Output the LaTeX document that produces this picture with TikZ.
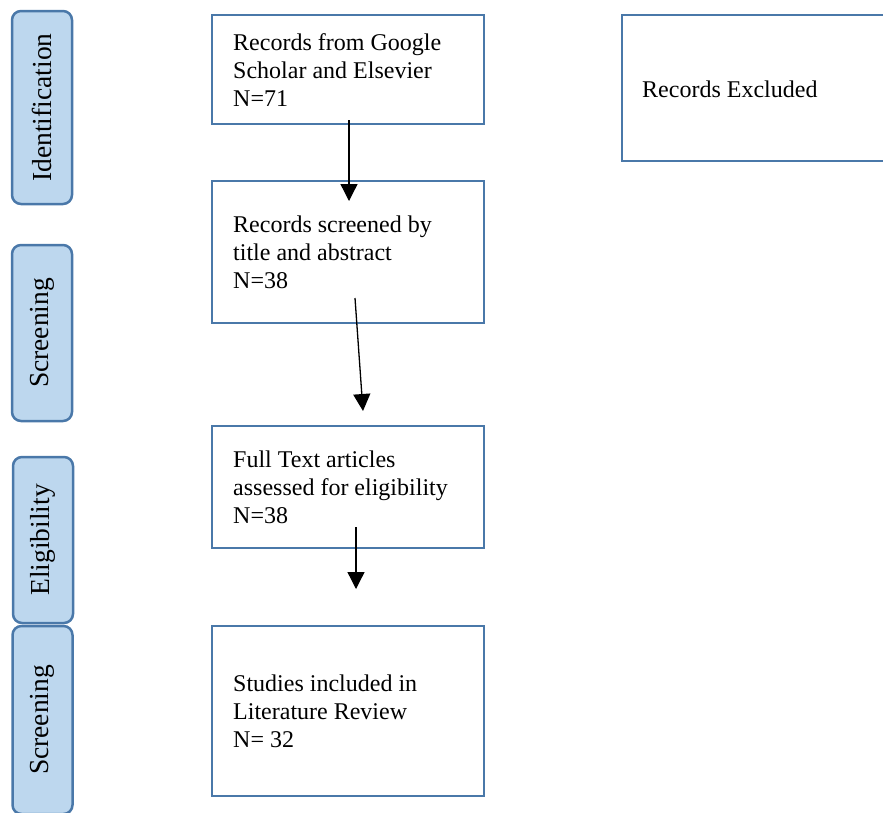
\documentclass[tikz,border=0pt]{standalone}
\usepackage{fontspec}
\setmainfont{Liberation Serif}
\usetikzlibrary{arrows.meta}
\definecolor{edge}{HTML}{4A78A9}
\definecolor{stage}{HTML}{BDD7EE}

\tikzset{
  flowbox/.style={draw=edge,line width=2.8pt,rectangle,inner sep=0pt},
  stagebox/.style={draw=edge,fill=stage,line width=2.5pt,rectangle,rounded corners=9pt,
    rotate=90,minimum height=60pt,inner sep=0pt,font=\fontsize{27.5}{30}\selectfont},
  boxtext/.style={anchor=base west,align=left,inner sep=0pt,font=\fontsize{24}{27.8}\selectfont},
  flow/.style={line width=1.3pt,-{Triangle[length=17pt,width=17pt]}}
}

\begin{document}
\begin{tikzpicture}[x=1pt,y=-1pt]
  \useasboundingbox (0,0) rectangle (883,812);

  % stages on the left
  \node[stagebox,minimum width=193pt] (ident) at (42,107.5) {Identification};
  \node[stagebox,minimum width=176pt] (screen) at (42,333) {Screening};
  \node[stagebox,minimum width=166pt] (elig) at (43,540) {Eligibility};
  \node[stagebox,minimum width=188pt] (incl) at (42.5,720) {Screening};

  % flow boxes
  \node[flowbox,minimum width=272pt,minimum height=109pt] (recs) at (348,69.5) {};
  \node[flowbox,minimum width=272pt,minimum height=142pt] (screened) at (348,252) {};
  \node[flowbox,minimum width=272pt,minimum height=122pt] (fulltext) at (348,487) {};
  \node[flowbox,minimum width=272pt,minimum height=170pt] (studies) at (348,711) {};
  \node[flowbox,minimum width=272pt,minimum height=146pt] (excl) at (758,88) {};

  % texts (base = last line)
  \node[boxtext] (recs-t) at (233,106) {Records from Google\\Scholar and Elsevier\\N=71};
  \node[boxtext] (screened-t) at (233,288) {Records screened by\\title and abstract\\N=38};
  \node[boxtext] (fulltext-t) at (233,523) {Full Text articles\\assessed for eligibility\\N=38};
  \node[boxtext] (studies-t) at (233,747) {Studies included in\\Literature Review\\N= 32};
  \node[boxtext] (excl-t) at (642,97) {Records Excluded};

  % arrows
  \coordinate (a1s) at (349,120);
  \coordinate (a1e) at (349,201);
  \coordinate (a2s) at (355,298);
  \coordinate (a2e) at (363,411);
  \coordinate (a3s) at (356,527);
  \coordinate (a3e) at (356,589);
  \draw[flow] (a1s) -- (a1e);
  \draw[flow] (a2s) -- (a2e);
  \draw[flow] (a3s) -- (a3e);
\end{tikzpicture}
\end{document}
